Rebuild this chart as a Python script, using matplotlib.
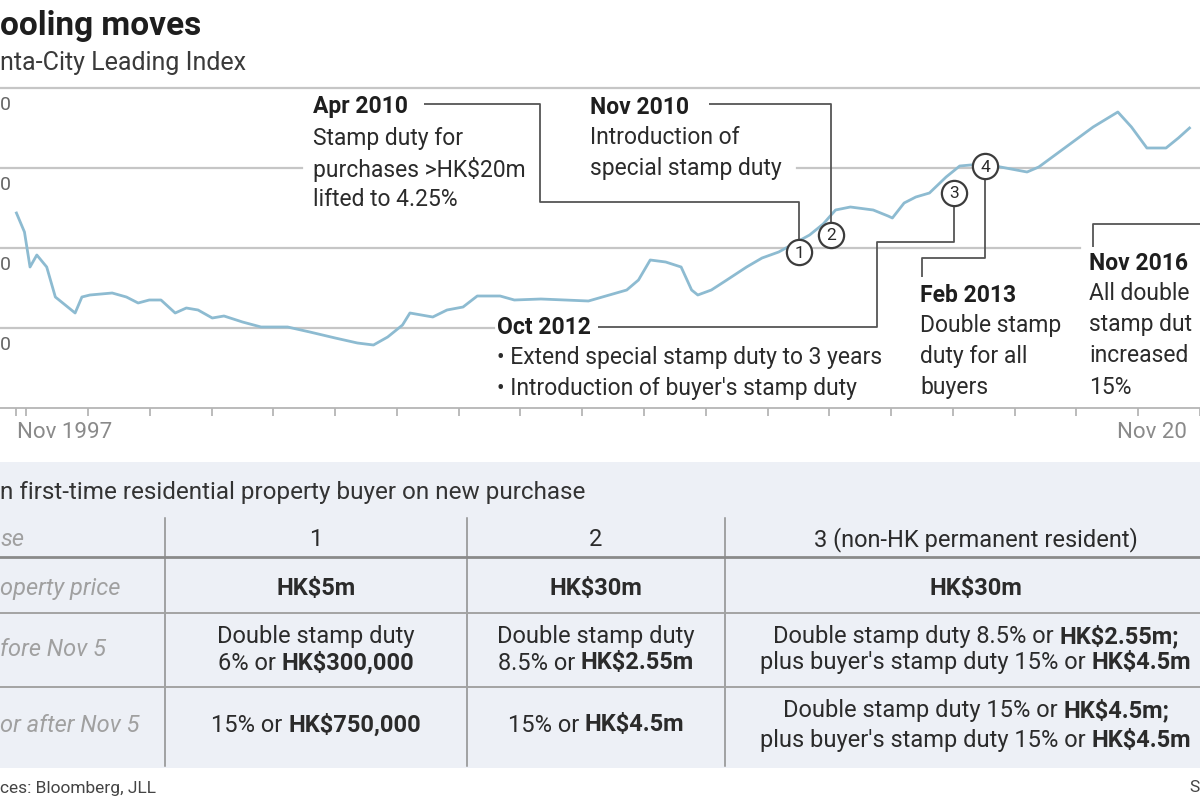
import matplotlib
matplotlib.use("Agg")
import matplotlib.pyplot as plt
from matplotlib.patches import Rectangle
import numpy as np

plt.rcParams['font.family'] = ['Roboto', 'DejaVu Sans']

# Centa-City Leading Index (decimal years)
dates = [1997.84, 1997.97, 1998.06, 1998.17, 1998.33, 1998.47, 1998.79, 1998.90,
         1999.03, 1999.39, 1999.62, 1999.81, 1999.99, 2000.18, 2000.41, 2000.59,
         2000.78, 2001.01, 2001.20, 2001.50, 2001.80, 2002.23, 2002.59, 2003.00,
         2003.36, 2003.62, 2003.85, 2004.09, 2004.21, 2004.58, 2004.81, 2005.07,
         2005.30, 2005.67, 2005.90, 2006.33, 2006.72, 2007.10, 2007.72, 2007.91,
         2008.10, 2008.35, 2008.60, 2008.77, 2008.87, 2009.09, 2009.34, 2009.66,
         2009.91, 2010.18, 2010.68, 2010.90, 2011.10, 2011.34, 2011.71, 2011.95,
         2012.02, 2012.21, 2012.40, 2012.62, 2012.89, 2013.11, 2013.46, 2013.77,
         2014.20, 2014.39, 2014.83, 2015.27, 2015.67, 2015.89, 2016.14, 2016.45,
         2016.65, 2016.83]
values = [97.5, 88, 70.5, 76.5, 70.5, 55.5, 47.5, 55.5,
          56.5, 57.5, 55.5, 52.5, 54, 54, 47.5, 50,
          49, 45, 46, 43, 40.5, 40.5, 38, 35,
          32.5, 31.5, 35.5, 41.5, 47.5, 45.5, 49, 50.5,
          56, 56, 54, 54.5, 54, 53.5, 59, 64,
          74, 73, 70.5, 59, 56.5, 59, 64, 70.5,
          75, 78, 86.5, 92, 99, 100.5, 99, 96,
          95, 102.5, 105.5, 107.5, 115.5, 121, 122, 120.5,
          118, 120.5, 130.5, 140.5, 148, 140.5, 130, 130,
          135, 140]

# the reference is a crop: only these parts of the texts are visible
title = 'ooling moves'
subtitle = 'nta-City Leading Index'
grid_values = [160, 120, 80, 40]
grid_labels = ['0', '0', '0', '0']
start_label = 'Nov 1997'
end_label = 'Nov 20'

# numbered policy markers on the line
marker_nums = ['1', '2', '3', '4']
marker_dates = [2010.18, 2010.68, 2012.62, 2013.11]

events = [
    ('Apr 2010', ['Stamp duty for', 'purchases >HK$20m', 'lifted to 4.25%']),
    ('Nov 2010', ['Introduction of', 'special stamp duty']),
    ('Oct 2012', ['\u2022 Extend special stamp duty to 3 years',
                  "\u2022 Introduction of buyer's stamp duty"]),
    ('Feb 2013', ['Double stamp', 'duty for all', 'buyers']),
    ('Nov 2016', ['All double', 'stamp dut', 'increased', '15%']),
]

# table
table_title = "n first-time residential property buyer on new purchase"
row_names = ['se', 'operty price', 'fore Nov 5', 'or after Nov 5']
case_names = ['1', '2', '3 (non-HK permanent resident)']
prices = ['HK$5m', 'HK$30m', 'HK$30m']
before = [
    [[('Double stamp duty', 'normal')], [('6% or ', 'normal'), ('HK$300,000', 'bold')]],
    [[('Double stamp duty', 'normal')], [('8.5% or ', 'normal'), ('HK$2.55m', 'bold')]],
    [[('Double stamp duty 8.5% or ', 'normal'), ('HK$2.55m;', 'bold')],
     [("plus buyer's stamp duty 15% or ", 'normal'), ('HK$4.5m', 'bold')]],
]
after = [
    [[('15% or ', 'normal'), ('HK$750,000', 'bold')]],
    [[('15% or ', 'normal'), ('HK$4.5m', 'bold')]],
    [[('Double stamp duty 15% or ', 'normal'), ('HK$4.5m;', 'bold')],
     [("plus buyer's stamp duty 15% or ", 'normal'), ('HK$4.5m', 'bold')]],
]
source_text = 'ces: Bloomberg, JLL'
credit_text = 'S'

# ---- layout (pixels on a 1200x800 canvas) ----
W, H = 1200, 800
x_origin = 1997.574      # date at the left edge of the canvas
px_per_year = 63.4
axis_y = 408             # pixel row of value 0
px_per_unit = 2.0
grid_color = '#c6c6c6'
ink = '#2b2b2b'
lead = '#555555'
fs_note = 16.5
fs_tab = 17


def to_px(d, v):
    return (d - x_origin) * px_per_year, axis_y - v * px_per_unit


fig = plt.figure(figsize=(12, 8), dpi=100)
fig.patch.set_facecolor('white')

ax = fig.add_axes([0, (H - axis_y) / H, 1, 160 * px_per_unit / H])
ax.set_xlim(x_origin, x_origin + W / px_per_year)
ax.set_ylim(0, 160)
ax.patch.set_visible(False)
for s in ['top', 'left', 'right']:
    ax.spines[s].set_visible(False)
ax.spines['bottom'].set_color('#b5b5b5')
ax.spines['bottom'].set_linewidth(1.3)
ax.set_yticks([])
ax.set_xticks([dates[0]] + list(range(1998, 2018)))
ax.tick_params(axis='x', length=6, width=1.1, color='#a8a8a8', labelbottom=False)

# gridlines, interrupted where the annotation blocks sit
grid_spans = {160: [(0, 1200)], 120: [(0, 302), (797, 1200)],
              80: [(0, 1080)], 40: [(0, 494)]}
for v in grid_values:
    for a, b in grid_spans[v]:
        ax.axhline(v, xmin=a / W, xmax=b / W, color=grid_color, lw=1.6,
                   clip_on=False, zorder=1)

ax.plot(dates, values, color='#8dbbd1', lw=2.0, zorder=3, solid_joinstyle='round')

# overlay in pixel coordinates for all the text work
ov = fig.add_axes([0, 0, 1, 1], zorder=5)
ov.set_xlim(0, W)
ov.set_ylim(H, 0)
ov.axis('off')
ov.patch.set_visible(False)
renderer = fig.canvas.get_renderer()

ov.text(0, 35, title, fontsize=24, fontweight='bold', color='#1e1e1e',
        ha='left', va='baseline')
ov.text(0, 70, subtitle, fontsize=18, color='#3a3a3a', ha='left', va='baseline')

for v, lab in zip(grid_values, grid_labels):
    ov.text(0, axis_y - v * px_per_unit + 17, lab, fontsize=14, color='#666666',
            ha='left', va='center')

ov.text(17, 432, start_label, fontsize=16, color='#8a8a8a', ha='left', va='center')
ov.text(1117, 432, end_label, fontsize=16, color='#8a8a8a', ha='left', va='center')

# markers
mvals = np.interp(marker_dates, dates, values)
mpx = [to_px(d, v) for d, v in zip(marker_dates, mvals)]
r = 12
for (cx, cy), n in zip(mpx, marker_nums):
    ov.scatter([cx], [cy], s=330, facecolor='white', edgecolor='#3c3c3c', lw=1.6, zorder=6)
    ov.text(cx, cy + 1, n, fontsize=12.5, color=ink, ha='center', va='center', zorder=7)

# leader lines
(c1x, c1y), (c2x, c2y), (c3x, c3y), (c4x, c4y) = mpx
leaders = [
    [(424, 104), (540, 104), (540, 202), (c1x, 202), (c1x, c1y - r)],
    [(709, 104), (c2x, 104), (c2x, c2y - r)],
    [(598, 327), (877, 327), (877, 242), (c3x, 242), (c3x, c3y + r)],
    [(922, 277), (922, 258), (c4x, 258), (c4x, c4y + r)],
    [(1093, 247), (1093, 224), (1215, 224)],
]
for path in leaders:
    xs, ys = zip(*path)
    ov.plot(xs, ys, color=lead, lw=1.3, zorder=4, solid_capstyle='butt')

# annotation text blocks
blocks = [(313, 107, 31.0), (590, 107, 31.0), (497, 327, 30.5),
          (920, 295, 30.7), (1089, 263, 31.0)]
for (head, lines), (bx, by, step) in zip(events, blocks):
    ov.text(bx, by, head, fontsize=fs_note, fontweight='bold', color='#1e1e1e',
            ha='left', va='center')
    for i, line in enumerate(lines):
        ov.text(bx, by + step * (i + 1), line, fontsize=fs_note, color=ink,
                ha='left', va='center')

# ---- table ----
ov.add_patch(Rectangle((0, 462), W, 306, facecolor='#edf0f6', edgecolor='none', zorder=0))
ov.text(0, 492, table_title, fontsize=17.5, color='#333333', ha='left', va='center')

for x in [165, 467, 725]:
    ov.plot([x, x], [518, 766], color='#8c8c8c', lw=1.1, zorder=1)
ov.plot([0, W], [557, 557], color='#8a8a8a', lw=2.0, zorder=1)
for y in [613, 687]:
    ov.plot([0, W], [y, y], color='#a3a3a3', lw=1.4, zorder=1)

row_y = [540, 588, 650, 725]
for name, y in zip(row_names, row_y):
    ov.text(0, y, name, fontsize=fs_tab, style='italic', color='#a0a0a0', ha='left', va='center')

col_x = [316, 596, 976]


def rich(x, y, parts, size=fs_tab):
    texts, widths = [], []
    for s, w in parts:
        t = ov.text(0, y, s.rstrip(), fontsize=size, fontweight=w, color=ink,
                    ha='left', va='center', zorder=3)
        texts.append(t)
        wd = t.get_window_extent(renderer).width
        if s.endswith(' '):
            wd += size * 100 / 72 * 0.25
        widths.append(wd)
    pos = x - sum(widths) / 2
    for t, wd in zip(texts, widths):
        t.set_x(pos)
        pos += wd


for cx, c, p in zip(col_x, case_names, prices):
    ov.text(cx, 540, c, fontsize=fs_tab, color=ink, ha='center', va='center')
    ov.text(cx, 588, p, fontsize=fs_tab, fontweight='bold', color=ink, ha='center', va='center')

for cx, cell in zip(col_x, before):
    for i, parts in enumerate(cell):
        rich(cx, 636 + 27 * i, parts)

for cx, cell in zip(col_x, after):
    if len(cell) == 1:
        rich(cx, 725, cell[0])
    else:
        for i, parts in enumerate(cell):
            rich(cx, 710 + 31 * i, parts)

ov.text(0, 788, source_text, fontsize=12.5, color='#444444', ha='left', va='center')
ov.text(1189, 788, credit_text, fontsize=12.5, color='#444444', ha='left', va='center')

fig.savefig('out.png', dpi=100)
